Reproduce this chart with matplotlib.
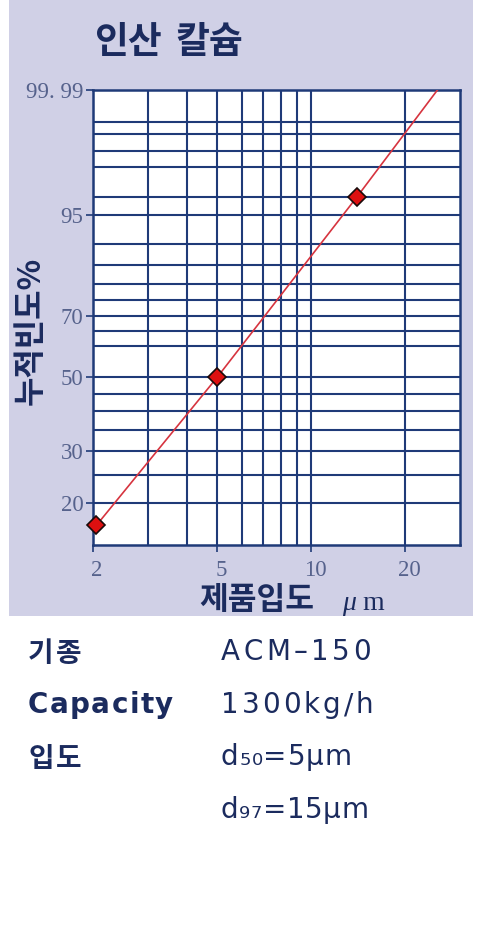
import numpy as np
import matplotlib
matplotlib.use("Agg")
import matplotlib.pyplot as plt
from matplotlib.patches import Rectangle
from matplotlib.ticker import FixedLocator, FixedFormatter
import matplotlib.transforms as mtransforms

# ---- data ----
title = "인산 칼슘"
ylabel = "누적빈도%"
xlabel = "제품입도"
x_unit_mu = "μ"
x_unit_m = "m"

x_ticks = [2, 5, 10, 20]
x_ticklabels = ["2", "5", "10", "20"]
x_grid = [3, 4, 5, 6, 7, 8, 9, 10, 20]
y_ticks = [20, 30, 50, 70, 95, 99.99]
y_ticklabels = ["20", "30", "50", "70", "95", "99. 99"]
y_grid = [20, 25, 30, 35, 40, 45, 50, 60, 65, 70, 75, 80, 85, 90, 95, 97,
          99, 99.5, 99.8, 99.9]

point_size = [2.05, 5.0, 14.0]
point_cum = [16.7, 50.0, 97.0]
line_size = [2.05, 5.0, 14.0, 25.4]
line_cum = [16.7, 50.0, 97.0, 99.99]

spec_keys = ["기종", "Capacity", "입도", ""]
spec_vals = ["ACM–150", "1300kg/h", "d₅₀=5μm", "d₉₇=15μm"]

# ---- style ----
W, H = 482, 940
DPI = 100
navy = "#1b2b5e"
grid_c = "#1f3a78"
tick_c = "#56628c"
lav = "#d0d0e6"

fig = plt.figure(figsize=(W / DPI, H / DPI), dpi=DPI)
fig.patch.set_facecolor("white")
fig.patches.append(Rectangle((9 / W, 1 - 616 / H), (473 - 9) / W, 616 / H,
                             transform=fig.transFigure, facecolor=lav,
                             edgecolor="none", zorder=-5))

ax = fig.add_axes([93 / W, 1 - 545 / H, (460 - 93) / W, (545 - 90) / H])
ax.set_zorder(2)
ax.set_facecolor("white")


def fwd(F):
    F = np.clip(np.asarray(F, dtype=float), 1e-6, 100 - 1e-9)
    return np.log(-np.log(1 - F / 100.0))


def inv(y):
    y = np.asarray(y, dtype=float)
    return 100.0 * (1 - np.exp(-np.exp(y)))


ax.set_xscale("log")
ax.set_yscale("function", functions=(fwd, inv))
ax.set_xlim(2, 30)
ax.set_ylim(14.2, 99.99)

for xv in x_grid:
    ax.axvline(xv, color=grid_c, lw=1.5, zorder=1)
for yv in y_grid:
    ax.axhline(yv, color=grid_c, lw=1.5, zorder=1)

ax.plot(line_size, line_cum, color="#d6343f", lw=1.2, zorder=3)
ax.plot(point_size, point_cum, linestyle="none", marker="D", markersize=9.5,
        markerfacecolor="#dd1010", markeredgecolor="#1a0a0a",
        markeredgewidth=1.2, zorder=4, clip_on=False)

for s in ax.spines.values():
    s.set_color(grid_c)
    s.set_linewidth(1.8)

ax.xaxis.set_major_locator(FixedLocator(x_ticks))
ax.xaxis.set_major_formatter(FixedFormatter(x_ticklabels))
ax.xaxis.set_minor_locator(FixedLocator([]))
ax.yaxis.set_major_locator(FixedLocator(y_ticks))
ax.yaxis.set_major_formatter(FixedFormatter(y_ticklabels))
ax.yaxis.set_minor_locator(FixedLocator([]))

ax.tick_params(axis="both", direction="out", length=5, width=1.2,
               color=grid_c, labelcolor=tick_c, labelsize=16.5)
ax.tick_params(axis="x", pad=6)
ax.tick_params(axis="y", pad=2)
for lab in ax.get_xticklabels() + ax.get_yticklabels():
    lab.set_fontfamily("Liberation Serif")
offset = mtransforms.ScaledTranslation(4 / DPI, 0, fig.dpi_scale_trans)
for lab in ax.get_xticklabels():
    lab.set_transform(lab.get_transform() + offset)

fam = ["DejaVu Sans", "Noto Sans CJK KR"]
kfam = ["Noto Sans CJK KR", "DejaVu Sans"]

# title: words placed with the wider word gap seen in the reference
title_words = title.split(" ")
title_x = [94, 175]
for word, tx in zip(title_words, title_x):
    fig.text(tx / W, 1 - 43 / H, word, fontfamily=kfam, fontweight="bold",
             fontsize=26.5, color=navy, ha="left", va="center")
fig.text(31 / W, 1 - 331 / H, ylabel, fontfamily=kfam, fontweight="bold",
         fontsize=23, color=navy, ha="center", va="center", rotation=90)
fig.text(199 / W, 1 - 600 / H, xlabel, fontfamily=kfam, fontweight="bold",
         fontsize=22.5, color=navy, ha="left", va="center")
fig.text(342 / W, 1 - 610 / H, x_unit_mu, fontfamily="Liberation Serif",
         fontstyle="italic", fontsize=20, color=navy, ha="left", va="baseline")
fig.text(362 / W, 1 - 610 / H, x_unit_m, fontfamily="Liberation Serif",
         fontsize=20, color=navy, ha="left", va="baseline")

renderer = fig.canvas.get_renderer()


def spaced_text(x_px, y_px, s, gap_px, **kw):
    x = x_px
    for ch in s:
        t = fig.text(x / W, 1 - y_px / H, ch, ha="left", va="baseline", **kw)
        if ch.strip():
            w = t.get_window_extent(renderer).width
        else:
            w = 8
        x += w + gap_px


key_base = [662, 713, 767, 819]
val_base = [660, 713, 765, 818]
key_gap = [2.2, 1.4, 2.2, 0]
val_gap = [3.5, 3.0, 0.8, 0.6]
for k, v, kb, vb, kg, vg in zip(spec_keys, spec_vals, key_base, val_base,
                                key_gap, val_gap):
    if k:
        spaced_text(28, kb, k, kg, fontfamily=fam, fontweight="bold",
                    fontsize=20, color=navy)
    spaced_text(221, vb, v, vg, fontfamily=fam, fontsize=20, color=navy)

fig.savefig("out.png", dpi=DPI, facecolor="white")
